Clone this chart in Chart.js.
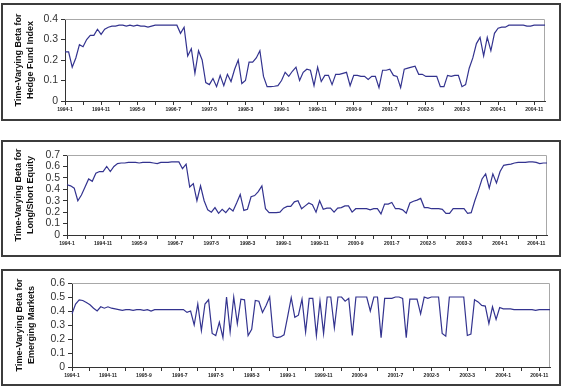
<!DOCTYPE html>
<html>
<head>
<meta charset="utf-8">
<script src="https://cdn.jsdelivr.net/npm/chart.js@4.4.0/dist/chart.umd.min.js"></script>
<style>
body { margin: 0; background: #fff; width: 564px; height: 391px; position: relative; overflow: hidden; }
.box { position: absolute; border: 2px solid #3c3c3c; box-sizing: border-box; background: #fff; }
.box canvas { position: absolute; left: 0; top: 0; }
</style>
</head>
<body>
<div class="box" style="left:1px;top:3px;width:560px;height:118px"><canvas id="c1" width="556" height="114"></canvas></div>
<div class="box" style="left:1px;top:140px;width:560px;height:117px"><canvas id="c2" width="556" height="113"></canvas></div>
<div class="box" style="left:1px;top:269px;width:560px;height:117px"><canvas id="c3" width="556" height="113"></canvas></div>
<script>
// monthly categories, 1994-1 onwards
var months = [];
for (var i = 0; i < 134; i++) {
  months.push((1994 + Math.floor(i / 12)) + "-" + ((i % 12) + 1));
}

var hedgeFund = [
  0.24, 0.24, 0.165, 0.21, 0.275, 0.265, 0.30, 0.32, 0.32, 0.35,
  0.325, 0.35, 0.36, 0.365, 0.365, 0.37, 0.37, 0.365, 0.37, 0.365,
  0.37, 0.365, 0.365, 0.36, 0.365, 0.37, 0.37, 0.37, 0.37, 0.37,
  0.37, 0.37, 0.33, 0.36, 0.22, 0.255, 0.135, 0.245, 0.2, 0.09,
  0.08, 0.11, 0.07, 0.125, 0.075, 0.13, 0.095, 0.155, 0.2, 0.085,
  0.1, 0.19, 0.19, 0.21, 0.245, 0.12, 0.07, 0.07, 0.072, 0.075,
  0.1, 0.14, 0.12, 0.145, 0.165, 0.1, 0.14, 0.155, 0.15, 0.075,
  0.165, 0.095, 0.125, 0.125, 0.08, 0.13, 0.13, 0.135, 0.14, 0.075,
  0.125, 0.125, 0.12, 0.12, 0.105, 0.12, 0.12, 0.065, 0.15, 0.15,
  0.155, 0.125, 0.12, 0.065, 0.155, 0.16, 0.165, 0.17, 0.13, 0.13,
  0.12, 0.12, 0.12, 0.12, 0.07, 0.07, 0.125, 0.12, 0.125, 0.125,
  0.07, 0.08, 0.16, 0.21, 0.28, 0.31, 0.22, 0.31, 0.245, 0.33,
  0.355, 0.36, 0.36, 0.37, 0.37, 0.37, 0.37, 0.37, 0.365, 0.365,
  0.37, 0.37, 0.37, 0.37
];

var longShort = [
  0.44, 0.43, 0.41, 0.30, 0.35, 0.42, 0.49, 0.47, 0.54, 0.555,
  0.555, 0.60, 0.555, 0.60, 0.625, 0.63, 0.63, 0.635, 0.635, 0.635,
  0.63, 0.635, 0.635, 0.635, 0.63, 0.625, 0.635, 0.635, 0.635, 0.64,
  0.64, 0.64, 0.58, 0.62, 0.42, 0.45, 0.30, 0.43, 0.30, 0.22,
  0.20, 0.24, 0.19, 0.225, 0.195, 0.235, 0.21, 0.28, 0.355, 0.215,
  0.225, 0.335, 0.345, 0.38, 0.43, 0.23, 0.195, 0.195, 0.195, 0.2,
  0.235, 0.25, 0.25, 0.29, 0.30, 0.23, 0.255, 0.28, 0.265, 0.20,
  0.30, 0.225, 0.235, 0.235, 0.20, 0.235, 0.24, 0.255, 0.255, 0.2,
  0.23, 0.23, 0.23, 0.23, 0.22, 0.23, 0.23, 0.185, 0.27, 0.27,
  0.285, 0.23, 0.23, 0.22, 0.19, 0.28, 0.295, 0.305, 0.32, 0.24,
  0.24, 0.23, 0.23, 0.23, 0.225, 0.19, 0.19, 0.23, 0.23, 0.23,
  0.23, 0.19, 0.195, 0.3, 0.39, 0.49, 0.535, 0.41, 0.535, 0.455,
  0.555, 0.61, 0.615, 0.62, 0.63, 0.635, 0.635, 0.635, 0.64, 0.64,
  0.635, 0.625, 0.63, 0.63
];

var emerging = [
  0.38, 0.45, 0.48, 0.475, 0.46, 0.445, 0.42, 0.40, 0.43, 0.42,
  0.43, 0.42, 0.415, 0.41, 0.405, 0.41, 0.41, 0.405, 0.41, 0.41,
  0.405, 0.41, 0.40, 0.41, 0.41, 0.41, 0.41, 0.41, 0.41, 0.41,
  0.41, 0.41, 0.39, 0.40, 0.30, 0.45, 0.26, 0.45, 0.48, 0.24,
  0.225, 0.32, 0.21, 0.50, 0.25, 0.50, 0.31, 0.485, 0.48, 0.225,
  0.27, 0.475, 0.47, 0.39, 0.44, 0.50, 0.22, 0.21, 0.215, 0.23,
  0.36, 0.495, 0.355, 0.37, 0.485, 0.25, 0.49, 0.49, 0.225, 0.47,
  0.24, 0.50, 0.50, 0.28, 0.50, 0.50, 0.47, 0.49, 0.225, 0.50,
  0.50, 0.50, 0.50, 0.40, 0.50, 0.50, 0.21, 0.49, 0.49, 0.49,
  0.50, 0.50, 0.49, 0.21, 0.485, 0.485, 0.485, 0.38, 0.50, 0.49,
  0.50, 0.50, 0.50, 0.24, 0.22, 0.50, 0.50, 0.50, 0.50, 0.50,
  0.225, 0.235, 0.48, 0.465, 0.44, 0.435, 0.31, 0.43, 0.34, 0.425,
  0.415, 0.415, 0.415, 0.41, 0.41, 0.41, 0.41, 0.41, 0.41, 0.405,
  0.41, 0.41, 0.41, 0.41
];

var lineColor = "#33338f";
var narrow = "'Liberation Sans Narrow', 'Arial Narrow', Arial, sans-serif";

// gray top/right edge of the plot area
var frame = {
  id: "frame",
  beforeDatasetsDraw: function (chart) {
    var a = chart.chartArea;
    var c = chart.ctx;
    c.save();
    c.strokeStyle = "#a8a8a8";
    c.lineWidth = 1;
    c.beginPath();
    c.moveTo(a.left, a.top + 0.5);
    c.lineTo(a.right - 0.5, a.top + 0.5);
    c.lineTo(a.right - 0.5, a.bottom);
    c.stroke();
    c.restore();
  }
};

function makeChart(id, values, maxY, title, cfg) {
  return new Chart(document.getElementById(id), {
    type: "line",
    data: {
      labels: months,
      datasets: [{
        data: values,
        borderColor: lineColor,
        borderWidth: 1.2,
        pointRadius: 0,
        tension: 0,
        fill: false
      }]
    },
    options: {
      responsive: false,
      animation: false,
      layout: { padding: { top: cfg.top, right: cfg.right, left: 0, bottom: 0 } },
      plugins: { legend: { display: false }, tooltip: { enabled: false } },
      scales: {
        x: {
          afterFit: function (s) { s.height = cfg.xh; },
          border: { color: "#333", width: 1 },
          grid: {
            drawOnChartArea: false,
            tickLength: 4,
            color: function (ctx) { return ctx.index % 5 === 0 ? "#333" : "rgba(0,0,0,0)"; }
          },
          ticks: {
            autoSkip: false,
            maxRotation: 0,
            minRotation: 0,
            padding: 2,
            color: "#222",
            font: { family: narrow, size: 5, weight: "bold" },
            callback: function (v, i) { return i % 10 === 0 ? months[i] : ""; }
          }
        },
        y: {
          min: 0,
          max: maxY,
          afterFit: function (s) { s.width = cfg.yw; },
          border: { color: "#333", width: 1 },
          grid: { drawOnChartArea: false, tickLength: 4, color: "#333" },
          ticks: {
            autoSkip: false,
            stepSize: 0.1,
            padding: 3,
            color: "#333",
            font: { family: "Arial, 'Liberation Sans', sans-serif", size: 10.5 }
          },
          title: {
            display: true,
            text: title,
            color: "#111",
            padding: { top: cfg.tp, bottom: 0 },
            font: { family: narrow, size: 9, weight: "bold", lineHeight: 1.333 }
          }
        }
      }
    },
    plugins: [frame]
  });
}

makeChart("c1", hedgeFund, 0.4, ["Time-Varying Beta for", "Hedge Fund Index"],
  { top: 14, right: 14, xh: 18, yw: 62, tp: 10 });
makeChart("c2", longShort, 0.7, ["Time-Varying Beta for", "Long/Short Equity"],
  { top: 13, right: 12, xh: 20, yw: 64, tp: 10 });
makeChart("c3", emerging, 0.6, ["Time-Varying Beta for", "Emerging Markets"],
  { top: 12, right: 9, xh: 17, yw: 69, tp: 11 });
</script>
</body>
</html>
